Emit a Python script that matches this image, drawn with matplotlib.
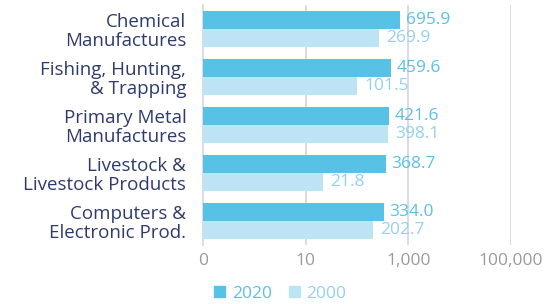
import matplotlib.pyplot as plt
from matplotlib.patches import Patch

categories = ["Chemical\nManufactures", "Fishing, Hunting,\n& Trapping", "Primary Metal\nManufactures",
              "Livestock &\nLivestock Products", "Computers &\nElectronic Prod."]
vals2020 = [695.9, 459.6, 421.6, 368.7, 334.0]
vals2000 = [269.9, 101.5, 398.1, 21.8, 202.7]
tick_vals = [0.1, 10, 1000, 100000]
tick_labels = ["0", "10", "1,000", "100,000"]

c2020 = "#58c2e6"
c2000 = "#bde4f4"
lab2020 = "#5bc0e5"
lab2000 = "#92d2ee"
navy = "#2e3b6e"
gridc = "#d9d7e6"

plt.rcParams['font.family'] = ['Open Sans', 'DejaVu Sans']

fig = plt.figure(figsize=(5.5, 3.04), dpi=100)
ax = fig.add_axes([0.369, 0.194, 0.56, 0.79])

h = 0.375
y = list(range(len(categories)))
ax.barh([i - h / 2 for i in y], vals2020, height=h, left=0.1, color=c2020, zorder=3)
ax.barh([i + h / 2 for i in y], vals2000, height=h, left=0.1, color=c2000, zorder=3)
ax.set_xscale('log')
ax.set_xlim(0.1, 100000)
ax.set_ylim(len(categories) - 0.5, -0.5)

for i in y:
    ax.annotate("%.1f" % vals2020[i], (vals2020[i], i - h / 2), xytext=(4, 0), textcoords='offset points',
                va='center', ha='left', color=lab2020, fontsize=12.5)
    ax.annotate("%.1f" % vals2000[i], (vals2000[i], i + h / 2), xytext=(5, 0), textcoords='offset points',
                va='center', ha='left', color=lab2000, fontsize=12.5)

ax.set_yticks(y)
ax.set_yticklabels(categories, fontsize=13.5, color=navy, linespacing=1.05)
ax.set_xticks(tick_vals)
ax.set_xticklabels(tick_labels, fontsize=12.5, color="#9a9a9a")
ax.xaxis.set_minor_locator(plt.NullLocator())
ax.tick_params(length=0, pad=6)
ax.tick_params(axis='y', pad=12)
for v in tick_vals[1:]:
    ax.axvline(v, color=gridc, lw=1.3, zorder=1)
for s in ['top', 'right', 'bottom']:
    ax.spines[s].set_visible(False)
ax.spines['left'].set_color(gridc)
ax.spines['left'].set_linewidth(1.3)

handles = [Patch(color=c2020, label="2020"), Patch(color=c2000, label="2000")]
leg = fig.legend(handles=handles, loc='lower center', bbox_to_anchor=(0.51, -0.045), ncol=2, frameon=False,
                 fontsize=12.5, handlelength=0.6, handleheight=0.6, handletextpad=0.4, columnspacing=1.0)
for t, c in zip(leg.get_texts(), [lab2020, lab2000]):
    t.set_color(c)

fig.savefig("out.png", dpi=100)
